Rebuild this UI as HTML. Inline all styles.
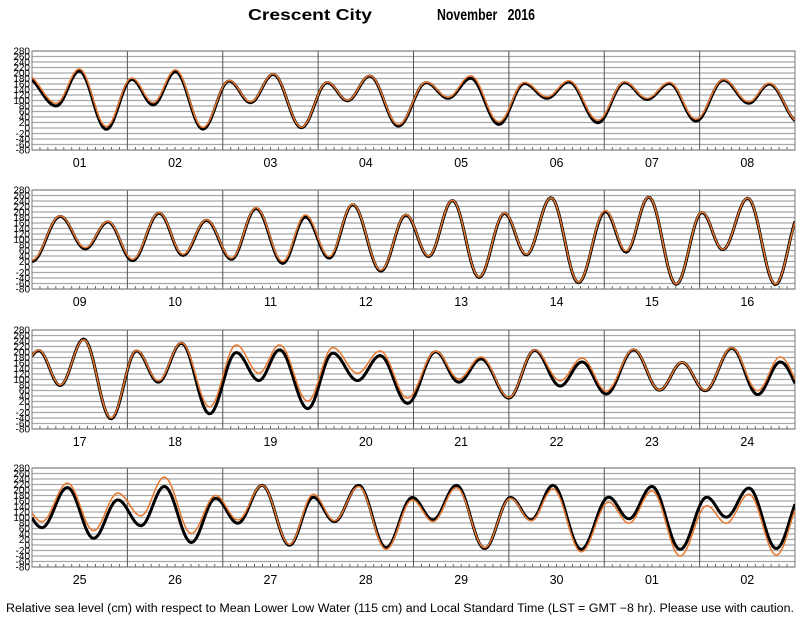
<!DOCTYPE html>
<html><head><meta charset="utf-8"><style>
html,body{margin:0;padding:0;background:#fff;}
svg{display:block;font-family:"Liberation Sans",sans-serif;}
</style></head><body>
<svg id="chart" width="800" height="618" viewBox="0 0 800 618" xmlns="http://www.w3.org/2000/svg">
<text x="248" y="20" font-size="16" font-weight="bold" textLength="124" lengthAdjust="spacingAndGlyphs">Crescent City</text>
<text x="437" y="20" font-size="16" font-weight="bold" textLength="98" lengthAdjust="spacingAndGlyphs" xml:space="preserve">November   2016</text>
<text x="6" y="612" font-size="11.5" textLength="788" lengthAdjust="spacingAndGlyphs">Relative sea level (cm) with respect to Mean Lower Low Water (115 cm) and Local Standard Time (LST = GMT −8 hr). Please use with caution.</text>
</svg>
<script>
const dayLabels = [
  ["01","02","03","04","05","06","07","08"],
  ["09","10","11","12","13","14","15","16"],
  ["17","18","19","20","21","22","23","24"],
  ["25","26","27","28","29","30","01","02"]
];
const yTicks = [280,260,240,220,200,180,160,140,120,100,80,60,40,20,0,-20,-40,-60,-80];
// extreme times (hours from panel start) and heights (cm)
const predTimes1 = [-1.5,6.1,11.9,18.7,25.1,30.5,36.1,43,49.6,55,60.7,67.8,74.3,79.4,85,92.2,99.2,104.7,110.4,117.5,123.9,129.6,135.1,142.4,149.1,154.8,160.4,167.1,174,180.4,185.5,193];
const predVals1 = [185,80,207,-5,177,84,205,-4,171,92,195,1,165,99,189,7,165,108,181,13,162,108,168,19,165,104,162,25,174,90,160,20];
const obsVals1 = [195,90,215,5,182,92,212,2,173,95,197,3,167,101,191,12,167,112,190,22,166,113,172,28,168,108,166,32,177,95,163,22];
const predTimes2 = [0,7.1,13.4,19.1,25.3,32,38,43.9,50.2,56.4,63.1,68.8,74.8,80.7,87.8,94.1,99.8,105.8,112.5,118.9,124.4,130.6,137.5,144.3,149.5,155.2,162.1,168.6,173.8,180.1,187.1,193.5];
const predVals2 = [20,184,66,164,23,196,42,170,28,213,13,182,32,227,-15,189,38,242,-38,195,44,252,-57,202,54,254,-63,198,63,250,-64,200];
const obsVals2 = [25,186,70,166,28,198,46,172,32,216,20,190,38,229,-12,191,40,243,-36,197,46,252,-55,206,58,255,-62,200,64,251,-62,195];
const predTimes3 = [-4.5,1.7,7.1,13,19.9,26.3,31.8,37.6,44.7,51.4,57.1,62.3,69.4,75.7,81.9,87.6,94.5,101.6,107.4,113,120,126.5,132.9,138.4,144.5,151.4,157.9,163.6,169.4,176.1,182.6,188.3,195];
const predVals3 = [90,205,78,247,-43,204,90,232,-25,198,96,208,-6,196,96,187,13,201,90,175,32,206,76,164,47,208,61,162,59,214,45,164,30];
const obsVals3 = [92,207,80,245,-40,206,95,234,0,226,123,226,21,216,123,204,32,203,102,182,34,208,95,178,58,210,62,163,61,216,59,182,40];
const predTimes4 = [-3.5,2.5,8.9,15.5,21.6,27.4,33.3,40.1,46.2,51.8,57.9,64.8,70.8,76.1,82.2,89.1,95.7,100.9,106.8,113.9,120.4,125.6,131.1,138.2,145.1,150.2,156,163.1,169.8,174.7,180.4,187.3,194];
const predVals4 = [160,63,209,24,164,70,213,9,170,79,217,-1,174,85,217,-10,173,91,217,-13,173,91,217,-16,174,95,213,-16,174,101,207,-13,190];
const obsVals4 = [170,85,225,52,189,106,247,42,180,91,217,2,185,88,213,-16,164,85,209,-10,170,88,204,-25,156,79,197,-40,143,79,185,-37,170];

const panels = [
  {times: predTimes1, pred: predVals1, obs: obsVals1},
  {times: predTimes2, pred: predVals2, obs: obsVals2},
  {times: predTimes3, pred: predVals3, obs: obsVals3},
  {times: predTimes4, pred: predVals4, obs: obsVals4}
];
const NS = "http://www.w3.org/2000/svg";
const svg = document.getElementById('chart');
const X0 = 32, X1 = 795, H = 99, HOURS = 192;
const tops = [51, 190, 330, 468];
const xs = t => X0 + (X1 - X0) * t / HOURS;
function mk(tag, attrs, parent){
  const e = document.createElementNS(NS, tag);
  for (const k in attrs) e.setAttribute(k, attrs[k]);
  (parent || svg).appendChild(e);
  return e;
}
function valueAt(times, vals, t){
  if (t <= times[0]) return vals[0];
  for (let i = 0; i < times.length - 1; i++){
    if (t <= times[i+1]){
      const f = (t - times[i]) / (times[i+1] - times[i]);
      return vals[i] + (vals[i+1] - vals[i]) * (1 - Math.cos(Math.PI * f)) / 2;
    }
  }
  return vals[vals.length - 1];
}
panels.forEach((p, pi) => {
  const top = tops[pi];
  const ys = v => top + H * (280 - v) / 360;
  const g = mk('g', {});
  
  
  const clip = mk('clipPath', {id: 'clip' + pi}, g);
  mk('rect', {x: X0, y: top, width: X1 - X0, height: H}, clip);
  yTicks.forEach(v => {
    const l = mk('line', {x1: X0, x2: X1, y1: ys(v), y2: ys(v), stroke: '#a8a8a8', 'stroke-width': 1.2}, g);
    
    
    const tx = mk('text', {x: 30, y: ys(v) + 3.5, 'text-anchor': 'end', 'font-size': 10}, g);
    
    
    tx.textContent = v;
  });
  for (let h = 2; h < HOURS; h += 2){
    if (h % 24 === 0) continue;
    const tk = mk('line', {x1: xs(h), x2: xs(h), y1: top + H, y2: top + H - 3, stroke: '#444', 'stroke-width': 0.8}, g);
    
    
  }
  for (let d = 1; d < 8; d++){
    const dl = mk('line', {x1: xs(d*24), x2: xs(d*24), y1: top, y2: top + H, stroke: '#555', 'stroke-width': 1}, g);
    
    
  }
  dayLabels[pi].forEach((lab, d) => {
    const t = mk('text', {x: xs(d*24 + 12), y: top + H + 17, 'text-anchor': 'middle', 'font-size': 12.5}, g);
    
    
    t.textContent = lab;
  });
  const frame = mk('rect', {x: X0, y: top, width: X1 - X0, height: H, fill: 'none', stroke: '#777', 'stroke-width': 1}, g);
  
  
  function pathFor(vals){
    let d = '';
    for (let t = 0; t <= HOURS; t += 0.5){
      d += (t === 0 ? 'M' : 'L') + xs(t).toFixed(2) + ',' + ys(valueAt(p.times, vals, t)).toFixed(2);
    }
    return d;
  }
  const pred = mk('path', {d: pathFor(p.pred), fill: 'none', stroke: '#000', 'stroke-width': 3, 'clip-path': 'url(#clip' + pi + ')'}, g);
  
  
  const obs = mk('path', {d: pathFor(p.obs), fill: 'none', stroke: '#e8772e', 'stroke-width': 1.5, 'clip-path': 'url(#clip' + pi + ')'}, g);
  
  
});
</script>
</body></html>
